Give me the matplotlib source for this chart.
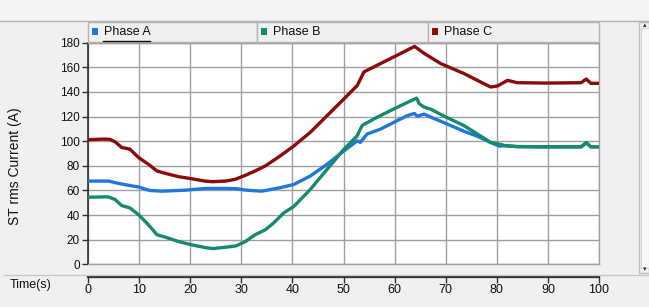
import matplotlib
matplotlib.use("Agg")
import matplotlib.pyplot as plt
from matplotlib.patches import Rectangle
from matplotlib.lines import Line2D

plt.rcParams['font.family'] = ['Liberation Sans', 'DejaVu Sans']

# ---------------- data ----------------
series_names = ["Phase A", "Phase B", "Phase C"]
series_colors = ["#1e78dc", "#168a6e", "#8c0a0a"]

t_a = [0, 4, 6, 8, 10, 12, 14.5, 19, 23, 27, 29, 31, 34, 37.6, 40.3, 43.5, 46.8,
       50.1, 52.7, 53.3, 54.6, 57.3, 59.9, 62.5, 63.9, 64.4, 65.8, 67.1, 69.7,
       73.6, 76.2, 78.8, 80.5, 82, 84, 90, 96.5, 97.5, 98.4, 100]
v_a = [67.6, 67.6, 65.7, 64.1, 62.7, 60, 59.4, 60.2, 61.6, 61.6, 61.4, 60.2, 59.4,
       62.2, 64.9, 71.7, 81.3, 92.2, 100.3, 99, 105.8, 109.9, 115.4, 120.8, 122.5,
       120.3, 122, 119.5, 115, 108, 104, 99, 96, 96.5, 95.5, 95.4, 95.4, 98.5, 95.4, 95.4]

t_b = [0, 4, 5.3, 6.6, 8.2, 9.9, 11.8, 13.5, 15.1, 17.7, 20.3, 23, 24.5, 27, 29,
       30.8, 32.7, 34.7, 36.3, 38.3, 40.3, 43.5, 46.8, 50.1, 52.7, 53.3, 53.7,
       56.6, 59.9, 62.5, 64.3, 64.8, 65.8, 67.1, 69.7, 73.6, 76.2, 78.8, 80.5, 82,
       84, 90, 96.5, 97.5, 98.4, 100]
v_b = [54.5, 54.8, 52.6, 47.7, 45.8, 40.3, 32.2, 24, 22.1, 18.5, 15.8, 13.5, 12.8,
       13.9, 15, 18.5, 24, 28, 33.5, 41.7, 47.1, 60.8, 77.2, 93.5, 104.4, 109.9,
       113, 119.5, 126.3, 131.5, 135, 130.5, 127.6, 126, 120.3, 112.6, 105.8, 99,
       97.6, 96, 95.7, 95.4, 95.4, 99, 95.4, 95.4]

t_c = [0, 3, 4.3, 5.3, 6.6, 8.2, 9.9, 11.8, 13.5, 15.1, 17.7, 20.3, 22.9, 24.3,
       26.9, 28.8, 30.8, 32.7, 34.7, 37.6, 40.3, 43.5, 46.8, 50.1, 52.7, 54, 56.6,
       59.9, 62.5, 63.9, 65.8, 69, 73.6, 76.2, 78.8, 80.1, 82.1, 84, 89.9, 96.5,
       97.5, 98.4, 100]
v_c = [101.2, 101.7, 101.5, 99.5, 94.9, 93.5, 86.7, 81.3, 75.8, 73.9, 71.2, 69.5,
       67.6, 67.1, 67.6, 69, 72.3, 75.8, 79.9, 88, 96.2, 107.2, 120.8, 134.4, 145.3,
       156.3, 161.7, 168.6, 174, 177, 171.3, 163.1, 154.9, 149.4, 144, 144.8, 149.4,
       147.5, 147.2, 147.5, 150.5, 147, 147]

y_ticks = [0, 20, 40, 60, 80, 100, 120, 140, 160, 180]
x_ticks = [0, 10, 20, 30, 40, 50, 60, 70, 80, 90, 100]
y_label = "ST rms Current (A)"
x_label = "Time(s)"

# ---------------- layout helpers ----------------
W, H = 649, 307
fig = plt.figure(figsize=(W / 100, H / 100), dpi=100, facecolor="#f0f0f0")

def fx(px):
    return px / W

def fy(py):
    return 1 - py / H

GRID = "#a0a0a0"

# top strip and separators
fig.patches.append(Rectangle((0, fy(20)), 1, 20 / H, transform=fig.transFigure,
                             facecolor="#f4f4f4", edgecolor="none", zorder=0))
fig.lines.append(Line2D([0, 1], [fy(20.5), fy(20.5)], transform=fig.transFigure,
                        color="#b4b4b4", lw=1))
fig.lines.append(Line2D([fx(4), 1], [fy(275), fy(275)], transform=fig.transFigure,
                        color="#c8c8c8", lw=1))

# scrollbar
fig.patches.append(Rectangle((fx(639), fy(273)), 10 / W, (273 - 22) / H,
                             transform=fig.transFigure, facecolor="#f0f0f0",
                             edgecolor="#c0c0c0", lw=1))
fig.patches.append(Rectangle((fx(641), fy(268)), 8 / W, (268 - 28) / H,
                             transform=fig.transFigure, facecolor="#f8f8f8",
                             edgecolor="#d8d8d8", lw=0.8))
fig.text(fx(645), fy(26), "\u25b4", fontsize=5, ha="center", va="center", color="#303030")
fig.text(fx(645), fy(270), "\u25be", fontsize=5, ha="center", va="center", color="#303030")

# legend header cells
cells = [(88, 257), (257, 428), (428, 598.5)]
for (x0, x1), name, col in zip(cells, series_names, series_colors):
    fig.patches.append(Rectangle((fx(x0), fy(42)), (x1 - x0) / W, 20 / H,
                                 transform=fig.transFigure, facecolor="#f0f0f0",
                                 edgecolor="#b4b4b4", lw=1))
    fig.patches.append(Rectangle((fx(x0 + 4), fy(34.5)), 6 / W, 6 / H,
                                 transform=fig.transFigure, facecolor=col,
                                 edgecolor="none"))
    fig.text(fx(x0 + 16), fy(32), name, fontsize=9, ha="left", va="center",
             color="#101010")
# focus underline on first legend entry
fig.lines.append(Line2D([fx(103), fx(150)], [fy(41), fy(41)], transform=fig.transFigure,
                        color="#101010", lw=1))

# ---------------- main axes ----------------
ax = fig.add_axes([fx(88), fy(264.3), (599 - 88) / W, (264.3 - 42.7) / H])
ax.set_facecolor("white")
ax.set_xlim(0, 100)
ax.set_ylim(0, 180)
ax.set_xticks(x_ticks)
ax.set_yticks(y_ticks)
ax.grid(True, color=GRID, lw=1)
ax.set_axisbelow(True)
ax.tick_params(axis="x", length=0, labelbottom=False)
ax.tick_params(axis="y", length=4, width=1, color="#303030", labelsize=8.5,
               labelcolor="#101010", pad=2)
for side in ["top", "right", "bottom"]:
    ax.spines[side].set_color(GRID)
    ax.spines[side].set_linewidth(1)
ax.spines["left"].set_color("#303030")
ax.spines["left"].set_linewidth(1.2)

for t, v, col in [(t_a, v_a, series_colors[0]), (t_b, v_b, series_colors[1]),
                  (t_c, v_c, series_colors[2])]:
    ax.plot(t, v, color=col, lw=2.4, solid_joinstyle="round", zorder=3)

fig.text(fx(15), fy(166), y_label, rotation=90, fontsize=10, ha="center",
         va="center", color="#101010")

# ---------------- time axis ----------------
tax = fig.add_axes([fx(88), fy(277.3), (599 - 88) / W, 0.0001])
tax.set_xlim(0, 100)
tax.set_xticks(x_ticks)
tax.set_yticks([])
tax.patch.set_visible(False)
for side in ["top", "right", "left"]:
    tax.spines[side].set_visible(False)
tax.spines["bottom"].set_color("#303030")
tax.spines["bottom"].set_linewidth(1.6)
tax.tick_params(axis="x", direction="out", length=4, width=1, color="#303030",
                labelsize=9, labelcolor="#101010", pad=1)
fig.text(fx(10), fy(285), x_label, fontsize=9, ha="left", va="center",
         color="#101010")

fig.savefig("out.png", dpi=100, facecolor=fig.get_facecolor())
